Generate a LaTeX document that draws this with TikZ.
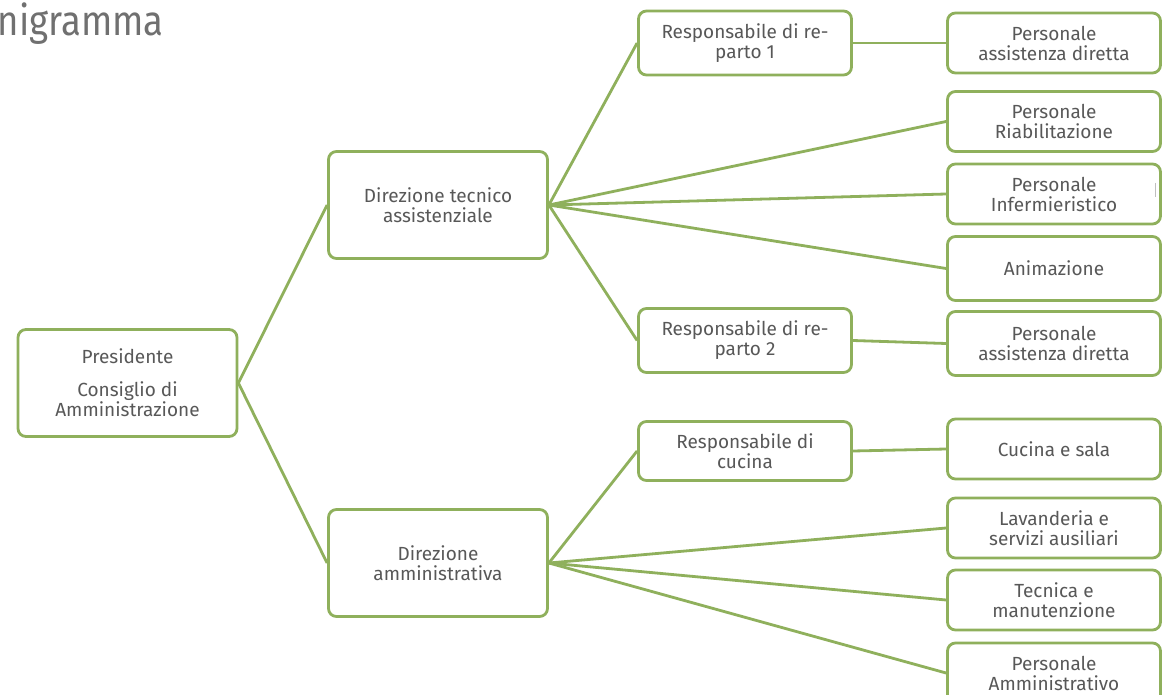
\documentclass[tikz,border=0pt]{standalone}
\usepackage{graphicx}
\usepackage{fontspec}
\setmainfont{Fira Sans}
\definecolor{grn}{RGB}{143,176,92}
\definecolor{txt}{RGB}{88,88,88}
\definecolor{ttl}{RGB}{112,112,112}
\begin{document}
\begin{tikzpicture}[x=1pt,y=-1pt,
  box/.style={draw=grn,line width=2.8pt,rounded corners=8pt,fill=white,
    text=txt,align=center,inner sep=0pt,
    font=\fontsize{19}{20}\selectfont},
  big/.style={box,minimum width=219pt,minimum height=107pt},
  mid/.style={box,minimum width=213pt,minimum height=64pt},
  sml/.style={box,minimum width=213pt,minimum height=60pt},
  link/.style={draw=grn,line width=2.8pt}]
\useasboundingbox (0,0) rectangle (1164,695);
\fill[white] (0,0) rectangle (1164,695);

% title (cut at the left edge, as in the reference)
\node[anchor=base east,inner sep=0pt,text=ttl,font=\fontsize{42}{42}\selectfont] (title) at (164,36) {\scalebox{0.87}[1]{Organigramma}};

% nodes
\node[big] (pres) at (127.5,383) {\rule{0pt}{8pt}Presidente\\[13pt]Consiglio di\\Amministrazione};
\node[big] (dta) at (438,205) {Direzione tecnico\\assistenziale};
\node[big] (dam) at (438,563) {Direzione\\amministrativa};

\node[mid] (r1) at (745,43) {Responsabile di re-\\parto 1};
\node[mid,minimum height=64pt] (r2) at (745,340.5) {Responsabile di re-\\parto 2};
\node[mid,minimum height=59pt] (rc) at (745,451) {Responsabile di\\cucina};

\node[sml] (pa1) at (1054,43) {Personale\\assistenza diretta};
\node[sml] (pr)  at (1054,121.5) {Personale\\Riabilitazione};
\node[sml] (pi)  at (1054,194) {Personale\\Infermieristico};
\node[sml,minimum height=64pt] (an) at (1054,268.5) {Animazione};
\node[sml,minimum height=64pt] (pa2) at (1054,343.5) {Personale\\assistenza diretta};
\node[sml] (cs)  at (1054,449) {Cucina e sala};
\node[sml] (lv)  at (1054,528) {Lavanderia e\\servizi ausiliari};
\node[sml] (tm)  at (1054,600) {Tecnica e\\manutenzione};
\node[sml] (pam) at (1054,673) {Personale\\Amministrativo};

% connectors
\draw[link] (pres.east) -- (dta.west);
\draw[link] (pres.east) -- (dam.west);
\draw[link] (dta.east) -- (r1.west);
\draw[link] (dta.east) -- (r2.west);
\draw[link] (dta.east) -- (pr.west);
\draw[link] (dta.east) -- (pi.west);
\draw[link] (dta.east) -- (an.west);
\draw[link] (r1.east) -- (pa1.west);
\draw[link] (r2.east) -- (pa2.west);
\draw[link] (dam.east) -- (rc.west);
\draw[link] (dam.east) -- (lv.west);
\draw[link] (dam.east) -- (tm.west);
\draw[link] (dam.east) -- (pam.west);
\draw[link] (rc.east) -- (cs.west);

% small mark
\draw[gray!50,line width=0.8pt] (1155,183) -- (1155,197);
\end{tikzpicture}
\end{document}
